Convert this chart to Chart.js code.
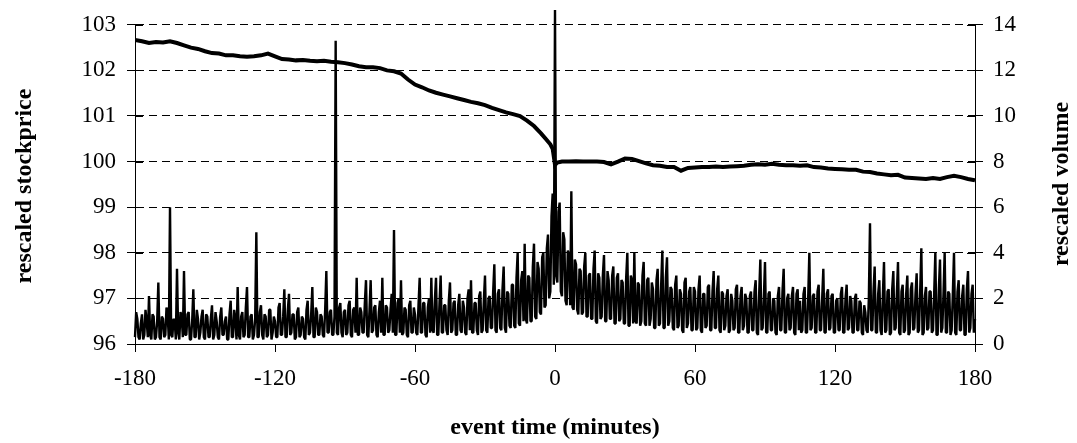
<!DOCTYPE html>
<html>
<head>
<meta charset="utf-8">
<script src="https://cdn.jsdelivr.net/npm/chart.js@4.4.1/dist/chart.umd.min.js"></script>
<style>
html,body{margin:0;padding:0;background:#fff;}
#wrap{width:1077px;height:443px;position:relative;}
</style>
</head>
<body>
<div id="wrap"><canvas id="c"></canvas></div>
<script>
// ---- data ----
const xTickValues = [-180, -120, -60, 0, 60, 120, 180];
const priceTickValues = [96, 97, 98, 99, 100, 101, 102, 103];
const volumeTickValues = [0, 2, 4, 6, 8, 10, 12, 14];

const xTitle = "event time (minutes)";
const leftTitle = "rescaled stockprice";
const rightTitle = "rescaled volume";

const priceTimes = [
 -180,-177,-174,-171,-168,-165,-162,-159,-156,-153,-150,-147,-144,-141,-138,-135,-132,-129,-126,-123,
 -120,-117,-114,-111,-108,-105,-102,-99,-96,-93,-90,-87,-84,-81,-78,-75,-72,-69,-66,-63,
 -60,-57,-54,-51,-48,-45,-42,-39,-36,-33,-30,-27,-24,-21,-18,-15,-12,-9,-6,
 -4,-2,-1,0,1,
 3,6,9,12,15,18,21,24,27,30,33,36,39,42,45,48,51,54,57,60,
 63,66,69,72,75,78,81,84,87,90,93,96,99,102,105,108,111,114,117,120,
 123,126,129,132,135,138,141,144,147,150,153,156,159,162,165,168,171,174,177,180
];
const priceValues = [
 102.67,102.64,102.60,102.62,102.61,102.64,102.60,102.55,102.50,102.47,102.42,102.38,102.37,102.33,102.33,102.31,102.30,102.31,102.33,102.37,
 102.31,102.25,102.24,102.22,102.23,102.21,102.20,102.21,102.19,102.18,102.16,102.13,102.09,102.07,102.07,102.05,102.00,101.98,101.93,101.80,
 101.69,101.63,101.56,101.51,101.47,101.43,101.39,101.35,101.31,101.28,101.24,101.18,101.13,101.08,101.04,101.00,100.90,100.78,100.62,
 100.50,100.38,100.28,99.93,99.98,
 100.00,100.00,100.01,100.00,100.00,100.00,99.99,99.94,100.00,100.07,100.06,100.01,99.96,99.92,99.91,99.88,99.88,99.80,99.86,99.87,
 99.88,99.88,99.89,99.88,99.89,99.90,99.91,99.93,99.94,99.93,99.95,99.93,99.92,99.92,99.91,99.92,99.88,99.87,99.85,99.84,
 99.83,99.82,99.82,99.78,99.77,99.74,99.72,99.70,99.71,99.65,99.64,99.63,99.62,99.64,99.62,99.66,99.69,99.66,99.62,99.59
];

// volume, one value per half minute from -180 to 180 (each row = 10 minutes)
const volumeStart = -180;
const volumeStep = 0.5;
const volumeValues = [
 0.3,1.4,1.1,0.3,0.2,0.9,1.3,0.2,0.4,1.5,1.0,0.3,2.1,0.4,0.2,1.3,1.2,0.2,0.3,1.0,
 2.7,0.3,0.2,1.2,1.1,0.3,0.4,1.6,1.3,0.2,6.0,0.4,0.3,1.1,1.0,0.2,3.3,0.5,0.2,1.4,
 1.2,0.3,3.2,0.4,0.4,1.3,1.4,0.2,0.2,1.0,2.4,0.3,0.3,1.5,1.1,0.2,0.5,1.2,1.5,0.3,
 0.2,1.3,1.2,0.3,0.3,1.1,1.7,0.2,0.4,1.4,1.0,0.3,0.2,1.2,1.6,0.4,0.4,1.0,1.2,0.2,
 0.2,1.3,1.9,0.3,0.3,1.5,1.1,0.2,2.5,0.4,0.2,1.2,1.4,0.3,0.4,1.6,2.5,0.3,0.3,1.2,
 1.3,0.2,0.4,1.1,4.9,0.3,0.3,1.4,1.7,0.4,0.2,1.3,1.2,0.3,0.4,1.5,1.5,0.2,0.5,1.2,
 1.0,0.3,0.3,1.6,1.8,0.4,0.4,1.2,2.4,0.3,0.3,1.5,2.2,0.4,0.5,1.3,1.3,0.2,0.3,1.4,
 1.6,0.3,0.4,1.2,1.1,0.3,0.2,1.5,1.9,0.4,0.5,1.3,2.5,0.3,0.3,1.6,1.4,0.4,0.4,1.3,
 1.2,0.4,0.3,1.5,3.2,0.5,0.5,1.4,1.5,0.4,0.4,1.2,13.3,0.5,0.4,1.6,1.8,0.5,0.3,1.4,
 1.5,0.4,0.5,1.7,1.9,0.4,0.3,1.5,1.6,0.5,2.9,0.4,0.4,1.6,1.4,0.5,0.5,1.8,2.8,0.4,
 0.3,1.5,2.8,0.5,0.6,1.6,1.7,0.4,0.3,1.4,1.9,0.5,2.9,0.4,0.4,1.7,1.6,0.5,0.6,1.5,
 2.2,0.5,5.0,0.4,0.4,1.8,2.0,0.5,2.8,0.4,0.5,1.6,1.5,0.4,0.3,1.7,1.9,0.5,0.5,1.6,
 1.3,0.5,0.4,1.7,2.9,0.5,0.5,1.8,1.8,0.4,0.3,1.6,2.0,0.5,2.9,0.6,0.5,1.9,2.9,0.4,
 0.4,1.8,3.0,0.5,0.5,1.7,1.7,0.6,0.4,1.9,2.7,0.5,0.6,1.8,1.9,0.4,0.4,1.7,2.2,0.6,
 0.5,1.9,1.6,0.5,0.4,2.0,2.4,0.6,2.8,0.5,0.5,1.8,1.8,0.6,0.4,2.1,2.3,0.5,0.6,1.9,
 3.0,0.6,0.5,2.0,2.1,0.7,0.7,2.3,3.5,0.6,0.5,2.2,2.4,0.7,0.6,2.4,3.4,0.7,0.5,2.3,
 2.2,0.8,0.7,2.6,2.6,0.8,0.7,2.9,4.0,0.9,0.8,2.8,3.2,1.0,4.4,1.1,0.9,3.0,2.9,1.0,
 1.0,3.4,4.4,1.2,1.1,3.6,3.3,1.4,1.3,3.8,4.0,1.6,1.7,4.2,4.8,2.0,2.3,5.6,6.6,2.6,
 14.65,3.0,2.7,5.8,6.2,2.3,2.1,4.9,4.6,1.9,1.7,4.1,3.9,1.7,6.7,1.6,1.5,3.7,3.5,1.5,
 1.3,3.3,3.2,1.3,1.4,3.4,4.0,1.2,1.2,3.0,3.1,1.1,1.1,3.3,4.1,1.0,0.9,3.1,2.9,1.1,
 1.2,3.0,3.9,1.0,1.0,3.2,2.8,1.1,1.1,3.0,3.4,0.9,0.9,2.9,3.1,1.0,1.1,2.8,2.7,0.9,
 0.9,2.9,4.0,0.8,0.8,3.0,2.8,0.9,4.0,1.0,0.9,2.7,2.6,0.8,1.0,3.0,3.6,0.9,0.8,2.8,
 2.9,0.8,1.1,2.7,2.4,0.7,0.7,2.8,3.3,0.8,0.9,2.6,4.1,0.7,0.7,2.9,3.8,0.8,1.0,2.5,
 2.4,0.7,0.6,2.6,3.0,0.7,0.8,2.4,2.2,0.6,0.5,2.7,2.9,0.7,0.9,2.3,2.5,0.6,0.6,2.5,
 2.3,0.6,0.7,2.4,3.0,0.6,0.5,2.2,2.2,0.7,0.8,2.5,2.6,0.6,0.6,2.3,3.2,0.7,0.7,2.4,
 3.0,0.6,0.5,2.3,2.2,0.6,0.8,2.1,2.4,0.5,0.6,2.2,1.9,0.6,0.7,2.4,2.6,0.5,0.5,2.1,
 2.5,0.6,0.8,2.2,2.0,0.5,0.5,2.1,2.3,0.6,0.6,2.3,2.8,0.5,0.4,2.2,3.7,0.6,0.7,2.0,
 3.6,0.5,0.5,2.2,2.3,0.6,0.6,2.0,1.9,0.5,0.4,2.1,2.5,0.6,0.6,2.3,3.3,0.5,0.5,2.0,
 2.2,0.6,0.7,2.1,2.5,0.5,0.4,2.2,2.4,0.6,1.9,0.5,0.6,2.2,2.5,0.5,0.5,2.0,4.0,0.6,
 0.7,2.1,2.2,0.5,0.5,2.3,2.6,0.6,0.6,2.0,3.3,0.5,0.5,2.2,2.4,0.6,0.7,2.1,2.2,0.5,
 0.5,1.9,2.0,0.6,0.6,2.2,2.5,0.5,0.5,2.0,2.6,0.6,0.7,2.1,1.9,0.5,0.5,2.0,2.2,0.6,
 0.6,1.9,1.8,0.5,0.4,1.7,1.4,0.6,0.5,2.0,5.3,0.6,0.6,2.3,3.4,0.5,0.5,2.2,2.8,0.6,
 0.4,2.1,3.6,0.5,0.6,2.3,2.4,0.4,0.5,2.4,3.2,0.6,0.7,2.2,3.6,0.5,0.4,2.3,2.6,0.5,
 0.6,2.2,3.0,0.4,0.5,2.4,2.7,0.6,0.7,2.2,3.1,0.5,0.6,2.3,4.2,0.4,0.5,2.1,2.5,0.6,
 0.7,2.3,2.3,0.5,0.6,2.2,4.0,0.4,0.4,2.4,3.7,0.5,0.7,2.2,4.0,0.5,0.5,2.3,2.2,0.4,
 0.6,2.2,4.0,0.5,0.4,2.3,2.8,0.6,0.6,2.1,2.6,0.4,0.4,2.4,3.2,0.5,0.7,2.2,2.6,0.5,
 1.1
];

// ---- build ----
const priceData = priceTimes.map((t, i) => ({x: t, y: priceValues[i]}));
const volumeData = volumeValues.map((v, i) => ({x: volumeStart + i * volumeStep, y: v}));

const FONT = '"Liberation Serif", "Times New Roman", serif';

const decor = {
  id: 'decor',
  afterDraw(chart) {
    const ctx = chart.ctx;
    const ca = chart.chartArea;
    const yl = chart.scales.y, yr = chart.scales.y1;
    ctx.save();
    ctx.strokeStyle = '#000';
    ctx.lineWidth = 1;
    ctx.beginPath();
    priceTickValues.forEach(v => {
      const py = Math.round(yl.getPixelForValue(v)) + 0.5;
      ctx.moveTo(ca.left, py); ctx.lineTo(ca.left + 8, py);
    });
    volumeTickValues.forEach(v => {
      const py = Math.round(yr.getPixelForValue(v)) + 0.5;
      ctx.moveTo(ca.right - 8, py); ctx.lineTo(ca.right, py);
    });
    ctx.stroke();
    ctx.fillStyle = '#000';
    ctx.font = 'bold 24px ' + FONT;
    ctx.textAlign = 'center';
    ctx.textBaseline = 'middle';
    ctx.fillText(xTitle, (ca.left + ca.right) / 2, 428);
    ctx.save();
    ctx.translate(25, 186);
    ctx.rotate(-Math.PI / 2);
    ctx.fillText(leftTitle, 0, 0);
    ctx.restore();
    ctx.save();
    ctx.translate(1062, 184);
    ctx.rotate(-Math.PI / 2);
    ctx.fillText(rightTitle, 0, 0);
    ctx.restore();
    ctx.restore();
  }
};

new Chart(document.getElementById('c'), {
  type: 'line',
  data: {
    datasets: [
      {
        label: 'rescaled stockprice',
        data: priceData,
        yAxisID: 'y',
        borderColor: '#000',
        borderWidth: 4,
        pointRadius: 0,
        tension: 0,
        fill: false,
        order: 0
      },
      {
        label: 'rescaled volume',
        data: volumeData,
        yAxisID: 'y1',
        borderColor: '#000',
        borderWidth: 2.4,
        borderJoinStyle: 'bevel',
        pointRadius: 0,
        tension: 0,
        fill: false,
        clip: false,
        order: 1
      }
    ]
  },
  options: {
    responsive: true,
    maintainAspectRatio: false,
    animation: false,
    devicePixelRatio: 1,
    layout: {padding: {top: 23, left: 0, right: 0, bottom: 0}},
    plugins: {legend: {display: false}, tooltip: {enabled: false}},
    scales: {
      x: {
        type: 'linear',
        min: -180, max: 180,
        afterBuildTicks: s => { s.ticks = xTickValues.map(v => ({value: v})); },
        afterFit: s => { s.height = 99; },
        ticks: {color: '#000', font: {family: FONT, size: 23}, padding: 13, maxRotation: 0},
        grid: {drawOnChartArea: false, drawTicks: true, tickLength: 8, color: '#000', lineWidth: 1},
        border: {display: true, color: '#000', width: 1}
      },
      y: {
        position: 'left',
        min: 96, max: 103,
        afterBuildTicks: s => { s.ticks = priceTickValues.map(v => ({value: v})); },
        afterFit: s => { s.width = 135; },
        ticks: {color: '#000', font: {family: FONT, size: 23}, padding: 11},
        grid: {drawOnChartArea: true, drawTicks: true, tickLength: 8, color: '#000', lineWidth: 1, tickBorderDash: []},
        border: {display: true, color: '#000', width: 1, dash: [8, 5]}
      },
      y1: {
        position: 'right',
        min: 0, max: 14,
        afterBuildTicks: s => { s.ticks = volumeTickValues.map(v => ({value: v})); },
        afterFit: s => { s.width = 102; },
        ticks: {color: '#000', font: {family: FONT, size: 23}, padding: 10},
        grid: {drawOnChartArea: false, drawTicks: true, tickLength: 8, color: '#000', lineWidth: 1},
        border: {display: true, color: '#000', width: 1}
      }
    }
  },
  plugins: [decor]
});
</script>
</body>
</html>
